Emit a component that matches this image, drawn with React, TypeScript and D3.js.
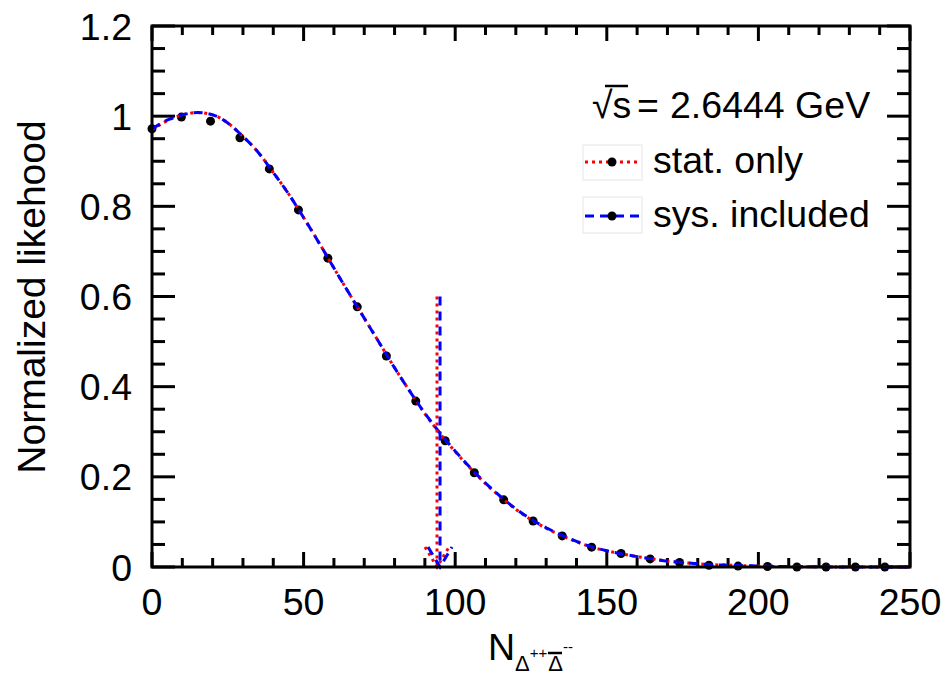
import React from 'react';
import * as d3 from 'd3';

// fitted likelihood curve
const curveX = [0, 5, 10, 15, 20, 25, 30, 35, 40, 45, 50, 55, 60, 65, 70, 75, 80, 85, 90, 95, 100, 105, 110, 115, 120, 125, 130, 135, 140, 145, 150, 155, 160, 165, 170, 175, 180, 185, 190, 200, 210, 220, 230, 240, 250];
const statCurve = [0.970, 0.990, 1.003, 1.008, 1.003, 0.985, 0.955, 0.920, 0.875, 0.828, 0.775, 0.720, 0.663, 0.607, 0.552, 0.497, 0.442, 0.390, 0.340, 0.296, 0.256, 0.219, 0.185, 0.155, 0.128, 0.105, 0.086, 0.070, 0.056, 0.044, 0.036, 0.029, 0.023, 0.018, 0.013, 0.010, 0.007, 0.005, 0.004, 0.002, 0.001, 0.0005, 0, 0, 0];
const sysCurve = [0.972, 0.991, 1.003, 1.008, 1.003, 0.985, 0.955, 0.920, 0.875, 0.828, 0.775, 0.720, 0.663, 0.607, 0.552, 0.497, 0.442, 0.390, 0.341, 0.297, 0.257, 0.220, 0.186, 0.156, 0.129, 0.106, 0.087, 0.071, 0.057, 0.045, 0.036, 0.029, 0.023, 0.018, 0.013, 0.010, 0.007, 0.005, 0.004, 0.002, 0.001, 0.0005, 0, 0, 0];

// scan points
const pointX = [0, 9.7, 19.3, 29.0, 38.7, 48.3, 58.0, 67.7, 77.3, 87.0, 96.7, 106.3, 116.0, 125.7, 135.3, 145.0, 154.7, 164.3, 174.0, 183.7, 193.3, 203.0, 212.7, 222.3, 232.0, 241.7];
const pointY = [0.972, 0.998, 0.989, 0.952, 0.883, 0.792, 0.685, 0.577, 0.468, 0.368, 0.280, 0.209, 0.149, 0.102, 0.069, 0.044, 0.030, 0.018, 0.010, 0.004, 0.002, 0.001, 0, 0, 0, 0];

// upper limits
const limitStat = 94;
const limitSys = 95;
const limitTop = 0.6;

const xTicks = [0, 50, 100, 150, 200, 250];
const yTicks = [0, 0.2, 0.4, 0.6, 0.8, 1, 1.2];

const W = 944, H = 679;
const margin = { left: 152, right: 34, top: 26, bottom: 112 };
const FONT = 'Liberation Sans, Arial, sans-serif';

export default function App() {
  const x = d3.scaleLinear().domain([0, 250]).range([margin.left, W - margin.right]);
  const y = d3.scaleLinear().domain([0, 1.2]).range([H - margin.bottom, margin.top]);
  const [x0, x1] = x.range();
  const [y0, y1] = y.range();

  const line = d3.line<number>()
    .x((_, i) => x(curveX[i]))
    .y(d => y(d))
    .curve(d3.curveMonotoneX);

  const xMinor = d3.range(0, 251, 10);
  const yMinor = d3.range(0, 1.2001, 0.05);

  const arrow = (v: number, color: string, dash: string) => {
    const ax = x(v);
    return (
      <g stroke={color} strokeWidth={3} strokeDasharray={dash} fill="none">
        <line x1={ax} x2={ax} y1={y(limitTop)} y2={y0} />
        <polyline points={`${ax - 12},${y0 - 20} ${ax},${y0} ${ax + 12},${y0 - 20}`} />
      </g>
    );
  };

  return (
    <svg width={W} height={H} style={{ position: 'absolute', left: 0, top: 0, background: '#fff' }} fontFamily={FONT}>
      {/* ticks */}
      <g stroke="#000" strokeWidth={3}>
        {xMinor.map(t => {
          const len = t % 50 === 0 ? 15 : 9;
          return (
            <g key={'x' + t}>
              <line x1={x(t)} x2={x(t)} y1={y0} y2={y0 - len} />
              <line x1={x(t)} x2={x(t)} y1={y1} y2={y1 + len} />
            </g>
          );
        })}
        {yMinor.map((t, i) => {
          const len = i % 4 === 0 ? 23 : 13;
          return (
            <g key={'y' + i}>
              <line x1={x0} x2={x0 + len} y1={y(t)} y2={y(t)} />
              <line x1={x1} x2={x1 - len} y1={y(t)} y2={y(t)} />
            </g>
          );
        })}
      </g>

      {/* points */}
      {pointX.map((px, i) => (
        <circle key={i} cx={x(px)} cy={y(pointY[i])} r={4.5} fill="#000" />
      ))}

      {/* curves */}
      <path d={line(statCurve) || ''} fill="none" stroke="#ff0000" strokeWidth={3} strokeDasharray="3,4" />
      <path d={line(sysCurve) || ''} fill="none" stroke="#0000ff" strokeWidth={3} strokeDasharray="9,6" />

      {arrow(limitStat, '#ff0000', '3,4')}
      {arrow(limitSys, '#0000ff', '9,6')}

      {/* frame */}
      <rect x={x0} y={y1} width={x1 - x0} height={y0 - y1} fill="none" stroke="#000" strokeWidth={3} />

      {/* tick labels */}
      <g fontSize={37.5} fill="#000">
        {xTicks.map(t => (
          <text key={t} x={x(t)} y={615} textAnchor="middle">{t}</text>
        ))}
        {yTicks.map(t => (
          <text key={t} x={132} y={y(t) + 13.5} textAnchor="end">{d3.format('~g')(t)}</text>
        ))}
      </g>

      {/* axis titles */}
      <text transform="translate(45,297) rotate(-90)" textAnchor="middle" fontSize={39}>Normalized likehood</text>
      <text x={488} y={660} fontSize={37.5} fill="#000">
        N
        <tspan fontSize={22} dy={11}>Δ</tspan>
        <tspan fontSize={15} dy={-13}>++</tspan>
        <tspan fontSize={22} dy={13} dx={1}>Δ</tspan>
        <tspan fontSize={15} dy={-19}>--</tspan>
      </text>
      <line x1={548} x2={562} y1={653} y2={653} stroke="#000" strokeWidth={2.5} />

      {/* legend */}
      <g fontSize={37.5} fill="#000">
        <text x={592} y={118}>√s</text>
        <line x1={605} x2={628} y1={86} y2={86} stroke="#000" strokeWidth={2.5} />
        <text x={637} y={118}>=</text>
        <text x={670} y={118}>2.6444 GeV</text>

        <rect x={583} y={145} width={59} height={35} fill="none" stroke="#eee" strokeWidth={1.5} />
        <line x1={585} x2={640} y1={162} y2={162} stroke="#ff0000" strokeWidth={3} strokeDasharray="3,4" />
        <circle cx={612} cy={162} r={4.5} fill="#000" />
        <text x={653} y={173}>stat. only</text>

        <rect x={583} y={197} width={59} height={36} fill="none" stroke="#eee" strokeWidth={1.5} />
        <line x1={585} x2={640} y1={216} y2={216} stroke="#0000ff" strokeWidth={3} strokeDasharray="9,6" />
        <circle cx={612} cy={216} r={4.5} fill="#000" />
        <text x={653} y={227}>sys. included</text>
      </g>
    </svg>
  );
}
